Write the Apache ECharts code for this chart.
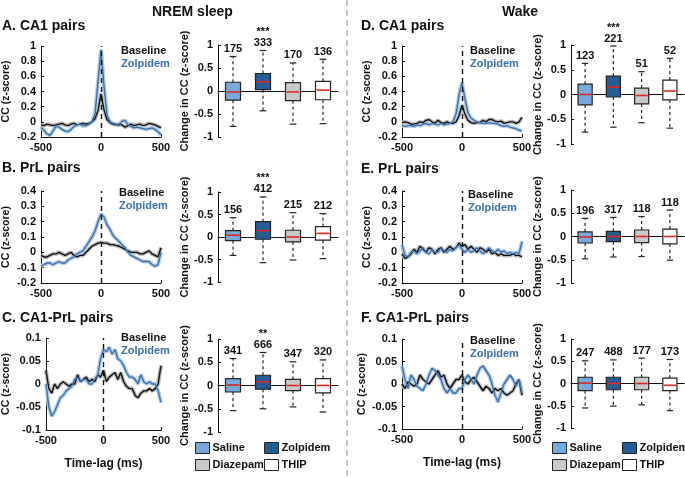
<!DOCTYPE html>
<html>
<head>
<meta charset="utf-8">
<script src="https://cdn.jsdelivr.net/npm/echarts@6/dist/echarts.min.js"></script>
<style>html,body{margin:0;background:#fff}#main{width:685px;height:478px}</style>
</head>
<body>
<div id="main"></div>
<script>
var FONT = '"Liberation Sans", Arial, sans-serif';

// time lags (ms)
var lags = [-500,-475,-450,-425,-400,-375,-350,-325,-300,-275,-250,-225,-200,-175,-150,-125,-100,-75,-50,-25,0,
            25,50,75,100,125,150,175,200,225,250,275,300,325,350,375,400,425,450,475,500];

// NREM sleep cross-correlograms
var baseA = [-0.04,-0.05,-0.03,-0.04,-0.05,-0.04,-0.03,-0.02,-0.04,-0.05,-0.03,-0.02,-0.04,-0.03,-0.02,-0.03,-0.02,0.0,0.04,0.15,0.37,
             0.16,0.03,-0.01,-0.03,-0.04,-0.03,-0.04,-0.07,-0.05,-0.03,-0.05,-0.04,-0.03,-0.05,-0.04,-0.02,-0.03,-0.04,-0.06,-0.08];
var zolA  = [-0.07,-0.11,-0.16,-0.18,-0.12,-0.06,-0.07,-0.1,-0.12,-0.13,-0.1,-0.06,-0.04,-0.03,-0.05,-0.05,-0.03,0.0,0.1,0.52,0.95,
             0.47,0.08,0.0,-0.02,-0.03,-0.05,0.01,0.02,-0.04,-0.06,-0.08,-0.07,-0.08,-0.09,-0.1,-0.09,-0.08,-0.1,-0.13,-0.17];
var baseB = [-0.02,-0.03,-0.03,-0.02,-0.01,-0.01,0.0,-0.01,-0.02,-0.01,0.0,-0.02,-0.03,-0.02,-0.02,0.0,0.02,0.04,0.05,0.06,0.065,
             0.06,0.06,0.05,0.05,0.045,0.04,0.03,0.02,0.01,0.0,0.0,0.0,-0.01,-0.01,0.0,0.01,-0.01,-0.02,-0.03,0.03];
var zolB  = [-0.09,-0.08,-0.07,-0.07,-0.08,-0.07,-0.06,-0.07,-0.07,-0.05,-0.04,-0.03,-0.01,0.0,0.01,0.04,0.07,0.1,0.14,0.2,0.25,
             0.23,0.18,0.15,0.11,0.09,0.07,0.05,0.03,0.0,-0.02,-0.03,-0.04,-0.05,-0.06,-0.06,-0.06,-0.08,-0.09,-0.08,0.0];
var baseC = [0.03,-0.01,-0.02,0.0,-0.01,0.0,0.005,0.0,-0.005,0.0,0.0,0.02,0.005,0.01,0.015,0.005,0.01,0.005,0.02,0.015,0.03,
             0.005,0.015,0.02,0.025,0.01,0.025,0.005,-0.005,-0.01,-0.01,-0.025,-0.03,-0.02,-0.015,-0.015,-0.01,-0.015,-0.01,0.0,0.04];
var zolC  = [0.0,-0.05,-0.07,-0.06,-0.045,-0.03,-0.025,-0.015,-0.01,-0.005,0.01,0.015,0.005,0.01,0.01,0.0,0.0,0.01,0.02,0.055,0.075,
             0.07,0.08,0.065,0.075,0.055,0.05,0.04,0.025,0.015,0.015,0.01,0.0,0.02,0.005,0.0,0.005,0.0,0.0,-0.015,-0.04];

// Wake cross-correlograms
var baseD = [-0.01,0.0,-0.01,-0.03,-0.03,-0.02,0.0,-0.01,0.02,0.03,0.0,-0.02,0.02,-0.01,-0.02,0.0,-0.02,-0.02,0.0,0.08,0.22,
             0.1,0.02,-0.01,-0.02,-0.01,-0.01,0.02,0.0,0.03,0.03,0.01,0.0,0.01,-0.02,-0.01,0.0,0.0,-0.02,0.0,0.06];
var zolD  = [-0.05,-0.06,-0.05,-0.05,-0.06,-0.04,-0.05,-0.03,-0.02,-0.04,-0.02,-0.03,-0.04,-0.02,-0.04,-0.03,-0.02,0.0,0.1,0.35,0.52,
             0.3,0.12,0.05,0.02,0.0,-0.01,-0.02,-0.02,-0.01,-0.02,-0.02,-0.03,-0.05,-0.06,-0.05,-0.07,-0.08,-0.09,-0.11,-0.12];
var baseE = [-0.01,-0.04,-0.03,-0.01,0.02,0.0,0.04,0.02,0.0,0.03,0.02,-0.01,0.02,0.03,0.0,0.02,0.04,0.02,0.03,0.06,0.04,
             0.05,0.02,0.04,0.02,0.0,0.03,0.02,0.0,0.02,-0.01,0.0,-0.02,-0.01,-0.02,-0.02,-0.02,-0.01,-0.02,-0.02,-0.03];
var zolE  = [0.05,-0.02,-0.03,0.0,0.01,-0.01,0.01,0.03,0.0,-0.01,0.02,0.0,0.0,0.03,0.01,0.0,0.02,0.01,0.03,0.05,0.02,
             0.0,0.02,0.0,0.01,0.03,0.01,-0.01,0.01,0.03,0.01,0.0,0.02,0.0,0.01,-0.01,0.0,-0.01,0.0,-0.01,0.07];
var baseF = [0.0,-0.01,0.005,0.0,-0.005,0.0,0.02,0.01,0.005,0.0,0.01,0.02,0.03,0.015,0.02,0.0,-0.01,0.0,0.01,0.01,0.02,
             0.005,0.0,0.01,0.015,0.005,-0.005,-0.015,-0.005,-0.01,-0.02,-0.01,-0.015,-0.01,-0.02,-0.025,-0.02,-0.015,0.0,0.01,-0.025];
var zolF  = [0.04,0.01,-0.01,0.02,0.01,-0.005,-0.01,-0.015,0.0,0.02,0.035,0.03,0.02,0.01,-0.01,-0.02,-0.01,-0.02,-0.02,-0.01,-0.01,
             0.01,0.02,0.01,0.0,0.02,0.035,0.04,0.03,0.02,0.0,-0.025,-0.04,-0.02,0.0,0.01,0.02,0.01,-0.005,0.01,-0.02];

// change in CC: [min, q1, median, q3, max] per group
var groups = ['Saline', 'Zolpidem', 'Diazepam', 'THIP'];
var boxA = [[-0.77,-0.2,-0.02,0.19,0.75],[-0.43,0.03,0.2,0.38,0.88],[-0.72,-0.21,-0.02,0.18,0.61],[-0.71,-0.19,0.02,0.21,0.69]];
var boxB = [[-0.41,-0.08,0.04,0.14,0.43],[-0.57,-0.05,0.14,0.34,0.89],[-0.51,-0.11,0.0,0.15,0.54],[-0.48,-0.07,0.08,0.23,0.52]];
var boxC = [[-0.54,-0.14,0.01,0.15,0.58],[-0.5,-0.08,0.08,0.22,0.71],[-0.46,-0.11,0.0,0.13,0.51],[-0.57,-0.16,0.0,0.15,0.55]];
var boxD = [[-0.76,-0.21,0.0,0.21,0.63],[-0.66,-0.05,0.15,0.37,0.98],[-0.57,-0.19,-0.02,0.13,0.46],[-0.68,-0.11,0.07,0.29,0.73]];
var boxE = [[-0.48,-0.14,-0.01,0.1,0.39],[-0.44,-0.11,0.0,0.11,0.41],[-0.43,-0.13,0.0,0.14,0.43],[-0.51,-0.16,0.0,0.16,0.57]];
var boxF = [[-0.55,-0.16,0.01,0.14,0.51],[-0.51,-0.14,0.0,0.14,0.53],[-0.48,-0.14,0.0,0.14,0.57],[-0.61,-0.16,-0.04,0.12,0.54]];
var nA = [175, 333, 170, 136], starsA = ['', '***', '', ''];
var nB = [156, 412, 215, 212], starsB = ['', '***', '', ''];
var nC = [341, 666, 347, 320], starsC = ['', '**', '', ''];
var nD = [123, 221, 51, 52],   starsD = ['', '***', '', ''];
var nE = [196, 317, 118, 118], starsE = ['', '', '', ''];
var nF = [247, 488, 177, 173], starsF = ['', '', '', ''];

var groupColors = ['#76aade', '#245c93', '#c9c9c9', '#ffffff'];
var BLUE = '#3a70ab';

var linePanels = [
  {base: baseA, zol: zolA, grid: {left: 41, top: 46, width: 120, height: 91}, y: [-0.2, 1, 0.2], leg: [121, 52]},
  {base: baseB, zol: zolB, grid: {left: 41, top: 191, width: 120, height: 92}, y: [-0.2, 0.4, 0.1], leg: [119, 194]},
  {base: baseC, zol: zolC, grid: {left: 41, top: 338, width: 120, height: 92}, y: [-0.1, 0.1, 0.05], leg: [121, 339], xname: true},
  {base: baseD, zol: zolD, grid: {left: 402, top: 46, width: 120, height: 91}, y: [-0.2, 1, 0.2], leg: [470, 52]},
  {base: baseE, zol: zolE, grid: {left: 402, top: 191, width: 120, height: 92}, y: [-0.2, 0.4, 0.1], leg: [468, 196]},
  {base: baseF, zol: zolF, grid: {left: 402, top: 339, width: 120, height: 90}, y: [-0.1, 0.1, 0.05], leg: [470, 342], xname: true}
];
var boxPanels = [
  {box: boxA, n: nA, stars: starsA, grid: {left: 218, top: 45, width: 120, height: 92}},
  {box: boxB, n: nB, stars: starsB, grid: {left: 218, top: 192, width: 120, height: 90}},
  {box: boxC, n: nC, stars: starsC, grid: {left: 218, top: 339, width: 120, height: 93}},
  {box: boxD, n: nD, stars: starsD, grid: {left: 571, top: 45, width: 113, height: 99}},
  {box: boxE, n: nE, stars: starsE, grid: {left: 571, top: 190, width: 113, height: 93}},
  {box: boxF, n: nF, stars: starsF, grid: {left: 571, top: 339, width: 113, height: 89}}
];

function pairs(vals) {
  return lags.map(function (t, i) { return [t, vals[i]]; });
}

function boxItem(counts, stars) {
  return function (params, api) {
    var i = api.value(0);
    var lo = api.coord([i, api.value(1)]);
    var q1 = api.coord([i, api.value(2)]);
    var md = api.coord([i, api.value(3)]);
    var q3 = api.coord([i, api.value(4)]);
    var hi = api.coord([i, api.value(5)]);
    var x = md[0], w = api.size([1, 0])[0] * 0.5, c = w * 0.45;
    var ink = {stroke: '#222', lineWidth: 1.2};
    var dash = {stroke: '#222', lineWidth: 1.2, lineDash: [3, 3]};
    var kids = [
      {type: 'line', shape: {x1: x, y1: q3[1], x2: x, y2: hi[1]}, style: dash},
      {type: 'line', shape: {x1: x, y1: q1[1], x2: x, y2: lo[1]}, style: dash},
      {type: 'line', shape: {x1: x - c / 2, y1: hi[1], x2: x + c / 2, y2: hi[1]}, style: ink},
      {type: 'line', shape: {x1: x - c / 2, y1: lo[1], x2: x + c / 2, y2: lo[1]}, style: ink},
      {type: 'rect', shape: {x: x - w / 2, y: q3[1], width: w, height: q1[1] - q3[1]},
        style: {fill: api.visual('color'), stroke: '#222', lineWidth: 1.2}},
      {type: 'line', shape: {x1: x - w / 2 + 1, y1: md[1], x2: x + w / 2 - 1, y2: md[1]},
        style: {stroke: '#e3261f', lineWidth: 1.6}},
      {type: 'text', style: {text: String(counts[i]), x: x, y: hi[1] - 2, align: 'center', verticalAlign: 'bottom',
        font: 'bold 11px ' + FONT, fill: '#111'}}
    ];
    if (stars[i]) {
      kids.push({type: 'text', style: {text: stars[i], x: x, y: hi[1] - 13, align: 'center', verticalAlign: 'bottom',
        font: 'bold 11px ' + FONT, fill: '#111'}});
    }
    return {type: 'group', children: kids};
  };
}

var axisText = {color: '#111', fontWeight: 'bold', fontSize: 11, fontFamily: FONT};
var grids = [], xAxes = [], yAxes = [], series = [], graphics = [];

linePanels.forEach(function (p, k) {
  grids.push(p.grid);
  xAxes.push({
    type: 'value', gridIndex: k, min: -500, max: 500, interval: 500,
    axisLine: {onZero: false, lineStyle: {color: '#111', width: 1}},
    axisTick: {inside: true, length: 3, lineStyle: {color: '#111'}},
    axisLabel: Object.assign({margin: 5}, axisText),
    splitLine: {show: false},
    name: p.xname ? 'Time-lag (ms)' : '', nameLocation: 'middle', nameGap: 28,
    nameTextStyle: {color: '#111', fontWeight: 'bold', fontSize: 12, fontFamily: FONT}
  });
  yAxes.push({
    type: 'value', gridIndex: k, min: p.y[0], max: p.y[1], interval: p.y[2],
    axisLine: {show: true, onZero: false, lineStyle: {color: '#111', width: 1}},
    axisTick: {show: true, inside: true, length: 3, lineStyle: {color: '#111'}},
    axisLabel: Object.assign({margin: 5}, axisText),
    splitLine: {show: false},
    name: 'CC (z-score)', nameLocation: 'middle', nameGap: 29,
    nameTextStyle: {color: '#111', fontWeight: 'bold', fontSize: 10.5, fontFamily: FONT}
  });
  series.push(
    {type: 'line', xAxisIndex: k, yAxisIndex: k, data: pairs(p.base), showSymbol: false, silent: true,
      lineStyle: {color: '#b9b9b9', width: 4}},
    {type: 'line', xAxisIndex: k, yAxisIndex: k, data: pairs(p.zol), showSymbol: false, silent: true,
      lineStyle: {color: '#b3cde8', width: 4}},
    {type: 'line', name: 'Baseline', xAxisIndex: k, yAxisIndex: k, data: pairs(p.base), showSymbol: false,
      lineStyle: {color: '#111', width: 1.4},
      markLine: {silent: true, symbol: 'none', label: {show: false},
        lineStyle: {color: '#111', type: [5, 4], width: 1.4}, data: [{xAxis: 0}]}},
    {type: 'line', name: 'Zolpidem line', xAxisIndex: k, yAxisIndex: k, data: pairs(p.zol), showSymbol: false,
      lineStyle: {color: BLUE, width: 1.4}}
  );
  graphics.push(
    {type: 'text', left: p.leg[0], top: p.leg[1] - 7, style: {text: 'Baseline', font: 'bold 11px ' + FONT, fill: '#111'}},
    {type: 'text', left: p.leg[0], top: p.leg[1] + 6, style: {text: 'Zolpidem', font: 'bold 11px ' + FONT, fill: BLUE}}
  );
});

boxPanels.forEach(function (p, j) {
  var k = linePanels.length + j;
  grids.push(p.grid);
  xAxes.push({
    type: 'category', gridIndex: k, data: groups,
    axisLine: {onZero: true, lineStyle: {color: '#111', width: 1.2}},
    axisTick: {show: false}, axisLabel: {show: false}, splitLine: {show: false}
  });
  yAxes.push({
    type: 'value', gridIndex: k, min: -1, max: 1, interval: 0.5,
    axisLine: {show: true, onZero: false, lineStyle: {color: '#111', width: 1}},
    axisTick: {show: true, inside: true, length: 3, lineStyle: {color: '#111'}},
    axisLabel: Object.assign({margin: 5}, axisText),
    splitLine: {show: false},
    name: 'Change in CC (z-score)', nameLocation: 'middle', nameGap: 28,
    nameTextStyle: {color: '#111', fontWeight: 'bold', fontSize: 11, fontFamily: FONT}
  });
  groups.forEach(function (g, i) {
    series.push({
      type: 'custom', name: g, xAxisIndex: k, yAxisIndex: k,
      itemStyle: {color: groupColors[i]},
      renderItem: boxItem(p.n, p.stars),
      encode: {x: 0, y: [1, 5]},
      data: [[i].concat(p.box[i])]
    });
  });
});

function titleText(text, left, top, size) {
  return {text: text, left: left, top: top, padding: 0,
    textStyle: {color: '#111', fontWeight: 'bold', fontSize: size, fontFamily: FONT}};
}

graphics.push({type: 'line', shape: {x1: 347, y1: 0, x2: 347, y2: 478},
  style: {stroke: '#c4c4c4', lineWidth: 2, lineDash: [6, 4]}});

function legendCol(left, names) {
  return {
    left: left, top: 442, orient: 'vertical', itemGap: 5, itemWidth: 14, itemHeight: 11, padding: 0,
    icon: 'rect', selectedMode: false, data: names,
    itemStyle: {borderColor: '#222', borderWidth: 1},
    textStyle: {color: '#111', fontWeight: 'bold', fontSize: 11, fontFamily: FONT, padding: [0, 0, 0, -2]}
  };
}

var chart = echarts.init(document.getElementById('main'));
chart.setOption({
  animation: false,
  backgroundColor: '#fff',
  title: [
    titleText('NREM sleep', 152, 5, 14), titleText('Wake', 502, 5, 14),
    titleText('A. CA1 pairs', 2, 19, 14), titleText('B. PrL pairs', 2, 161, 14), titleText('C. CA1-PrL pairs', 2, 311, 14),
    titleText('D. CA1 pairs', 361, 19, 14), titleText('E. PrL pairs', 361, 162, 14), titleText('F. CA1-PrL pairs', 361, 311, 14)
  ],
  legend: [
    legendCol(195, ['Saline', 'Diazepam']), legendCol(264, ['Zolpidem', 'THIP']),
    legendCol(552, ['Saline', 'Diazepam']), legendCol(622, ['Zolpidem', 'THIP'])
  ],
  grid: grids,
  xAxis: xAxes,
  yAxis: yAxes,
  series: series,
  graphic: graphics
});
window.addEventListener('resize', function () { chart.resize(); });
</script>
</body>
</html>
